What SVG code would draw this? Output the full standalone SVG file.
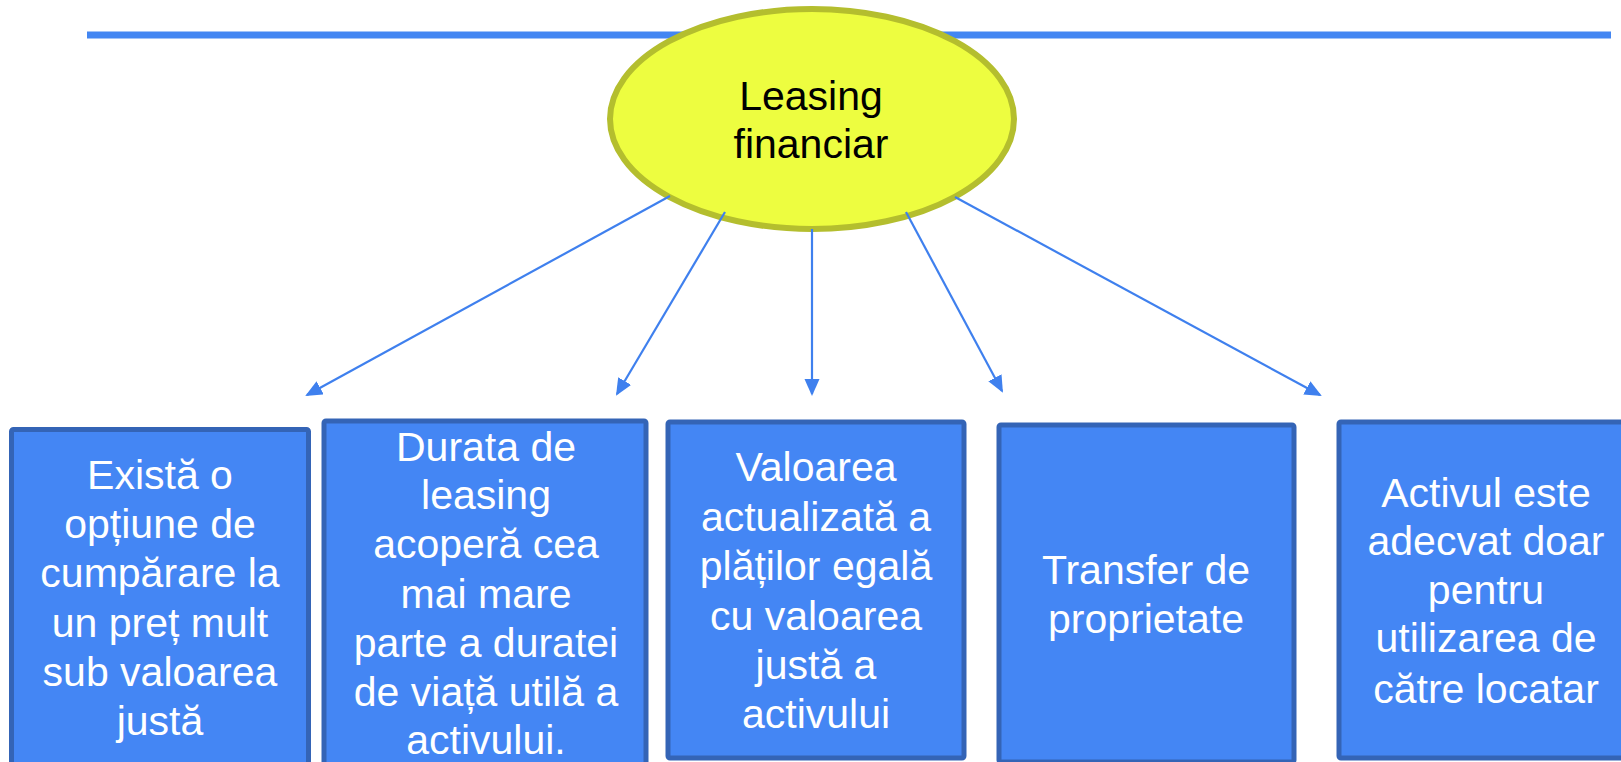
<svg xmlns="http://www.w3.org/2000/svg" width="1621" height="762" viewBox="0 0 1621 762">
<style>
.box{fill:#4486F4;stroke:#3464B6;stroke-width:5}
.bt{font-family:"Liberation Sans",Arial,sans-serif;font-size:41px;fill:#ffffff;text-anchor:middle}
.et{font-family:"Liberation Sans",Arial,sans-serif;font-size:41px;fill:#000000;text-anchor:middle}
.con{stroke:#3F80EE;stroke-width:2.2;fill:none;marker-end:url(#arr)}
</style>
<defs>
<marker id="arr" markerUnits="userSpaceOnUse" markerWidth="18" markerHeight="16" refX="15" refY="7.5" orient="auto">
<path d="M0,0 L17,7.5 L0,15 z" fill="#3F80EE"/>
</marker>
</defs>
<rect x="0" y="0" width="1621" height="762" fill="#ffffff"/>
<line x1="87" y1="35" x2="1611" y2="35" stroke="#4386F2" stroke-width="7"/>
<g id="root">
<ellipse cx="812" cy="119" rx="202" ry="110" fill="#EDFD40" stroke="#B4BE2E" stroke-width="6"/>
<text class="et" x="811" y="110">Leasing</text>
<text class="et" x="811" y="158">financiar</text>
</g>
<g id="connectors">
<line class="con" x1="670" y1="196" x2="307" y2="395"/>
<line class="con" x1="725" y1="212" x2="617" y2="394"/>
<line class="con" x1="812" y1="229" x2="812" y2="394"/>
<line class="con" x1="906" y1="212" x2="1002" y2="391"/>
<line class="con" x1="955" y1="197" x2="1320" y2="395"/>
</g>
<g id="n1">
<rect class="box" x="11.5" y="429.5" width="297" height="345" rx="2"/>
<text class="bt" x="160" y="489">Există o</text>
<text class="bt" x="160" y="538">opțiune de</text>
<text class="bt" x="160" y="587">cumpărare la</text>
<text class="bt" x="160" y="637">un preț mult</text>
<text class="bt" x="160" y="686">sub valoarea</text>
<text class="bt" x="160" y="735">justă</text>
</g>
<g id="n2">
<rect class="box" x="324" y="421" width="322" height="350" rx="2"/>
<text class="bt" x="486" y="461">Durata de</text>
<text class="bt" x="486" y="509">leasing</text>
<text class="bt" x="486" y="558">acoperă cea</text>
<text class="bt" x="486" y="608">mai mare</text>
<text class="bt" x="486" y="657">parte a duratei</text>
<text class="bt" x="486" y="706">de viață utilă a</text>
<text class="bt" x="486" y="754">activului.</text>
</g>
<g id="n3">
<rect class="box" x="668" y="422" width="296" height="336" rx="2"/>
<text class="bt" x="816" y="481">Valoarea</text>
<text class="bt" x="816" y="531">actualizată a</text>
<text class="bt" x="816" y="580">plăților egală</text>
<text class="bt" x="816" y="630">cu valoarea</text>
<text class="bt" x="816" y="679">justă a</text>
<text class="bt" x="816" y="728">activului</text>
</g>
<g id="n4">
<rect class="box" x="999" y="425" width="295" height="337" rx="2"/>
<text class="bt" x="1146" y="584">Transfer de</text>
<text class="bt" x="1146" y="633">proprietate</text>
</g>
<g id="n5">
<rect class="box" x="1339" y="422" width="296" height="336" rx="2"/>
<text class="bt" x="1486" y="507">Activul este</text>
<text class="bt" x="1486" y="555">adecvat doar</text>
<text class="bt" x="1486" y="604">pentru</text>
<text class="bt" x="1486" y="652">utilizarea de</text>
<text class="bt" x="1486" y="703">către locatar</text>
</g>
</svg>
